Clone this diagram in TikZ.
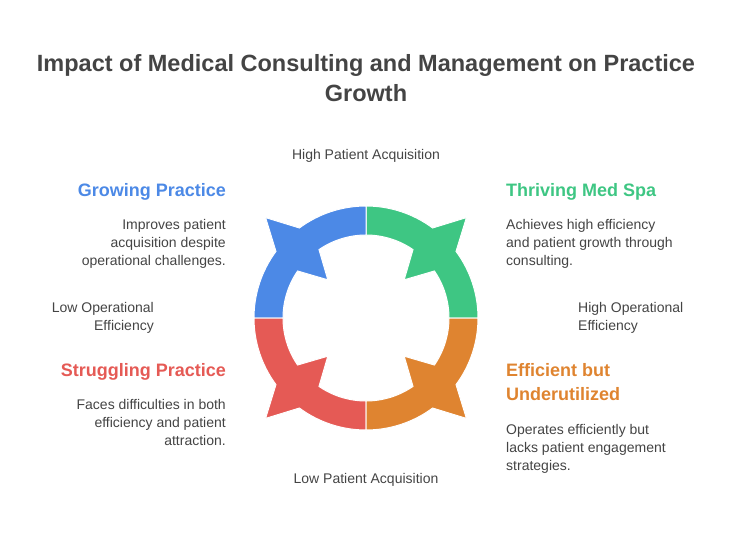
\documentclass[tikz,border=0pt]{standalone}
\usepackage{fontspec}
\setmainfont{Liberation Sans}
\definecolor{tg}{HTML}{444444}
\definecolor{cb}{HTML}{4C89E6}
\definecolor{cg}{HTML}{3EC683}
\definecolor{co}{HTML}{DF8430}
\definecolor{cr}{HTML}{E55A55}
\begin{document}
\begin{tikzpicture}[x=1pt,y=-1pt,
  head/.style={font=\fontsize{18}{21}\selectfont\bfseries,inner sep=0pt},
  body/.style={font=\fontsize{14}{18}\selectfont,text=tg,inner sep=0pt},
  lbl/.style={font=\fontsize{14}{18}\selectfont,text=tg,inner sep=0pt}]
\useasboundingbox (0,0) rectangle (732,552);
\coordinate (c) at (366,318);
\newcommand{\quadseg}[2]{%
 \fill[#2,draw=white,line width=1pt,shift={(c)},rotate=#1]
  (0:83) -- (0:112) arc[start angle=0,end angle=-36.5,radius=112]
  -- (-45:142) -- (-53.5:112) arc[start angle=-53.5,end angle=-90,radius=112]
  -- (-90:83) arc[start angle=-90,end angle=-55.5,radius=83]
  -- (-45:54) -- (-34.5:83) arc[start angle=-34.5,end angle=0,radius=83] -- cycle;}
\quadseg{0}{cg}
\quadseg{90}{cb}
\quadseg{180}{cr}
\quadseg{270}{co}
\node[font=\fontsize{23.5}{30}\selectfont\bfseries,text=tg,align=center] (title) at (366,78)
 {Impact of Medical Consulting and Management on Practice\\Growth};
\node[lbl] (hpa) at (366,156) {High Patient Acquisition};
\node[lbl] (lpa) at (366,480) {Low Patient Acquisition};
\node[lbl,align=right,anchor=east] (loe) at (154,318) {Low Operational\\Efficiency};
\node[lbl,align=left,anchor=west] (hoe) at (578,318) {High Operational\\Efficiency};
\node[head,text=cb,anchor=east] (gp) at (226,192) {Growing Practice};
\node[body,align=right,anchor=north east] (gpt) at (226,219) {Improves patient\\acquisition despite\\operational challenges.};
\node[head,text=cg,anchor=west] (tm) at (506,192) {Thriving Med Spa};
\node[body,align=left,anchor=north west] (tmt) at (506,219) {Achieves high efficiency\\and patient growth through\\consulting.};
\node[head,text=cr,anchor=east] (sp) at (226,372) {Struggling Practice};
\node[body,align=right,anchor=north east] (spt) at (226,399) {Faces difficulties in both\\efficiency and patient\\attraction.};
\node[head,text=co,anchor=north west,align=left,font=\fontsize{18}{24}\selectfont\bfseries] (eu) at (506,363) {Efficient but\\Underutilized};
\node[body,align=left,anchor=north west] (eut) at (506,424) {Operates efficiently but\\lacks patient engagement\\strategies.};
\end{tikzpicture}
\end{document}
